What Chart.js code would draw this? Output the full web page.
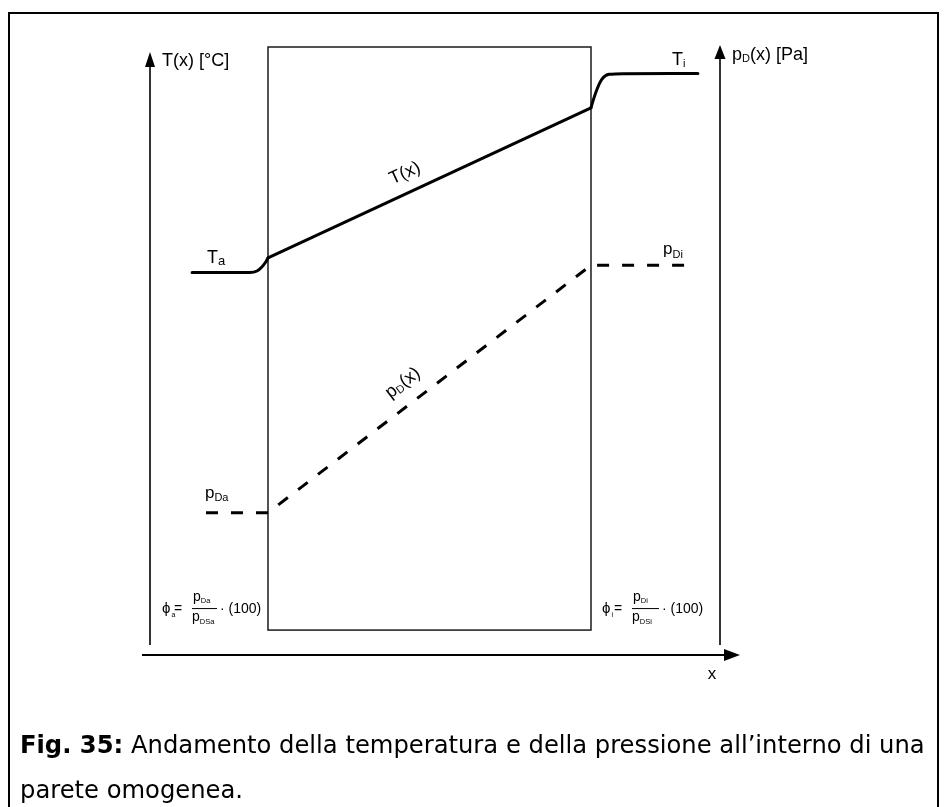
<!DOCTYPE html>
<html><head><meta charset="utf-8">
<script src="https://cdn.jsdelivr.net/npm/chart.js@4.4.1/dist/chart.umd.min.js"></script>
<style>
html,body{margin:0;padding:0;background:#fff;}
#wrap{position:relative;width:945px;height:807px;overflow:hidden;background:#fff;}
#c{position:absolute;left:0;top:0;}
#cap{position:absolute;left:20px;top:722px;font-family:"DejaVu Sans",Verdana,sans-serif;font-size:18px;line-height:45px;color:#000;white-space:nowrap;}
#cap b{font-weight:bold;}
</style></head><body>
<div id="wrap"><canvas id="c" width="945" height="807"></canvas>
<div id="cap"><span id="l1"><b>Fig. 35:</b> Andamento della temperatura e della pressione all’interno di una</span><br>parete omogenea.</div></div>
<script>
// ---- data (x in wall-thickness units: wall from 0 to 1; y in relative units 0..100) ----
const extX    = [-0.235, -0.056, -0.034, -0.019, -0.006, 0];
const tempExt = [62.9, 62.9, 63.16, 63.82, 64.72, 65.3];
const wallX   = [0, 1];
const tempWall = [65.3, 90.0];
const intX    = [1, 1.006, 1.019, 1.034, 1.056, 1.105, 1.331];
const tempInt = [90.0, 91.1, 93.1, 94.7, 95.5, 95.62, 95.65];
const pressX  = [-0.192, 0, 1, 1.313];
const pressure = [23.4, 23.4, 64.1, 64.1];
const wallBottom = 4.1;

const pts = (xs, ys) => xs.map((x, i) => ({x, y: ys[i]}));
const FONT = '"Liberation Sans", Arial, Helvetica, sans-serif';

function txt(ctx, s, x, y, size) {
  ctx.font = size + 'px ' + FONT;
  ctx.textAlign = 'left';
  ctx.textBaseline = 'alphabetic';
  ctx.fillText(s, x, y);
  return ctx.measureText(s).width;
}
function subTxt(ctx, x, y, main, sub, size, subSize, dy, rest) {
  let w = txt(ctx, main, x, y, size);
  w += txt(ctx, sub, x + w, y + dy, subSize);
  if (rest) w += txt(ctx, rest, x + w, y, size);
  return w;
}
function measureSub(ctx, main, sub, size, subSize, rest) {
  ctx.font = size + 'px ' + FONT; let w = ctx.measureText(main).width;
  if (rest) w += ctx.measureText(rest).width;
  ctx.font = subSize + 'px ' + FONT; w += ctx.measureText(sub).width;
  return w;
}
function formula(ctx, x0, yb, s1, s2, s3, barW) {
  ctx.fillStyle = '#000';
  ctx.font = '15px ' + FONT;
  ctx.fillText('\u03D5', x0, yb + 5);
  txt(ctx, s1, x0 + 9.5, yb + 9, 7);
  txt(ctx, '=', x0 + 12, yb + 5, 14);
  subTxt(ctx, x0 + 31, yb - 7, 'p', s2, 14, 7.5, 2);
  ctx.beginPath(); ctx.lineWidth = 1; ctx.strokeStyle = '#000';
  ctx.moveTo(x0 + 30, yb + 0.5); ctx.lineTo(x0 + 30 + barW, yb + 0.5); ctx.stroke();
  subTxt(ctx, x0 + 30, yb + 13, 'p', s3, 14, 7.5, 3);
  txt(ctx, '\u00B7 (100)', x0 + barW + 33, yb + 5, 14);
}

const diagram = {
  id: 'diagram',
  beforeDatasetsDraw(chart) {
    const ctx = chart.ctx, xs = chart.scales.x, ys = chart.scales.y, a = chart.chartArea;
    ctx.save();
    // outer frame
    ctx.strokeStyle = '#000'; ctx.lineWidth = 2;
    ctx.strokeRect(9, 13, 929, 900);
    // wall
    const X0 = xs.getPixelForValue(0), X1 = xs.getPixelForValue(1);
    const Yt = ys.getPixelForValue(100), Yb = ys.getPixelForValue(wallBottom);
    ctx.lineWidth = 1.5; ctx.strokeStyle = '#1a1a1a';
    ctx.strokeRect(X0, Yt, X1 - X0, Yb - Yt);
    // vertical axes
    ctx.fillStyle = '#000'; ctx.strokeStyle = '#000'; ctx.lineWidth = 1.6;
    const L = a.left, R = a.right;
    ctx.beginPath(); ctx.moveTo(L, a.bottom - 10); ctx.lineTo(L, 64); ctx.stroke();
    ctx.beginPath(); ctx.moveTo(L, 52); ctx.lineTo(L - 5, 67); ctx.lineTo(L + 5, 67); ctx.closePath(); ctx.fill();
    ctx.beginPath(); ctx.moveTo(R, a.bottom - 10); ctx.lineTo(R, 56); ctx.stroke();
    ctx.beginPath(); ctx.moveTo(R, 45); ctx.lineTo(R - 5.5, 59); ctx.lineTo(R + 5.5, 59); ctx.closePath(); ctx.fill();
    // x axis
    ctx.lineWidth = 2;
    ctx.beginPath(); ctx.moveTo(L - 8, a.bottom); ctx.lineTo(R + 6, a.bottom); ctx.stroke();
    ctx.beginPath(); ctx.moveTo(R + 20, a.bottom); ctx.lineTo(R + 4, a.bottom - 6); ctx.lineTo(R + 4, a.bottom + 6); ctx.closePath(); ctx.fill();
    ctx.restore();
  },
  afterDatasetsDraw(chart) {
    const ctx = chart.ctx, xs = chart.scales.x, ys = chart.scales.y, a = chart.chartArea;
    const P = (x, y) => [xs.getPixelForValue(x), ys.getPixelForValue(y)];
    ctx.save();
    ctx.fillStyle = '#000';
    // axis titles
    txt(ctx, 'T(x) [\u00B0C]', a.left + 12, 66, 18);
    subTxt(ctx, a.right + 12, 60, 'p', 'D', 18, 11, 2, '(x) [Pa]');
    ctx.font = '17px ' + FONT; ctx.textAlign = 'center';
    ctx.fillText('x', a.right - 8, a.bottom + 24);
    // end labels
    let [px, py] = P(extX[0], tempExt[0]);
    subTxt(ctx, px + 15, py - 9.5, 'T', 'a', 18, 13, 2);
    [px, py] = P(intX[intX.length - 1], tempInt[tempInt.length - 1]);
    subTxt(ctx, px - 26, py - 8, 'T', 'i', 18, 11, 2);
    [px, py] = P(pressX[0], pressure[0]);
    subTxt(ctx, px - 1, py - 15, 'p', 'Da', 17, 11, 3.5);
    [px, py] = P(pressX[3], pressure[3]);
    subTxt(ctx, px - 29, py - 11, 'p', 'Di', 17, 11, 3.5);
    // rotated curve labels
    const rotLabel = (xA, yA, xB, yB, f, draw) => {
      const [ax, ay] = P(xA, yA), [bx, by] = P(xB, yB);
      const ang = Math.atan2(by - ay, bx - ax);
      ctx.save();
      ctx.translate(ax + (bx - ax) * f, ay + (by - ay) * f);
      ctx.rotate(ang);
      draw();
      ctx.restore();
    };
    rotLabel(wallX[0], tempWall[0], wallX[1], tempWall[1], 0.449, () => {
      ctx.font = '18px ' + FONT; const w = ctx.measureText('T(x)').width;
      txt(ctx, 'T(x)', -w / 2, -14, 18);
    });
    rotLabel(pressX[1], pressure[1], pressX[2], pressure[2], 0.457, () => {
      const w = measureSub(ctx, 'p', 'D', 18, 11, '(x)');
      subTxt(ctx, -w / 2, -16, 'p', 'D', 18, 11, 2, '(x)');
    });
    // formulas
    const yb = ys.getPixelForValue(wallBottom) - 22;
    formula(ctx, a.left + 12, yb, 'a', 'Da', 'DSa', 25);
    formula(ctx, xs.getPixelForValue(1) + 11, yb, 'i', 'Di', 'DSi', 27);
    ctx.restore();
  }
};

const lineStyle = {borderColor: '#000', borderWidth: 3, pointRadius: 0, fill: false, borderCapStyle: 'round', borderJoinStyle: 'round'};
new Chart(document.getElementById('c'), {
  type: 'line',
  data: {
    datasets: [
      Object.assign({label: 'T ext', data: pts(extX, tempExt), cubicInterpolationMode: 'monotone'}, lineStyle),
      Object.assign({label: 'T(x)', data: pts(wallX, tempWall), tension: 0}, lineStyle),
      Object.assign({label: 'T int', data: pts(intX, tempInt), cubicInterpolationMode: 'monotone'}, lineStyle),
      Object.assign({label: 'pD(x)', data: pts(pressX, pressure), tension: 0}, lineStyle, {borderDash: [12, 13], borderCapStyle: 'butt', borderJoinStyle: 'miter'})
    ]
  },
  options: {
    responsive: false, animation: false, devicePixelRatio: 1, events: [],
    layout: {padding: {left: 150, right: 225, top: 47, bottom: 152}},
    scales: {
      x: {type: 'linear', min: -0.3653, max: 1.3994, display: false},
      y: {type: 'linear', min: 0, max: 100, display: false}
    },
    plugins: {legend: {display: false}, tooltip: {enabled: false}}
  },
  plugins: [diagram]
});

// fit caption first line to its width in the original
(function () {
  const cap = document.getElementById('cap'), l1 = document.getElementById('l1');
  const w = l1.getBoundingClientRect().width;
  const fs = 18 * 905 / w;
  cap.style.fontSize = fs.toFixed(2) + 'px';
})();
</script>
</body></html>
